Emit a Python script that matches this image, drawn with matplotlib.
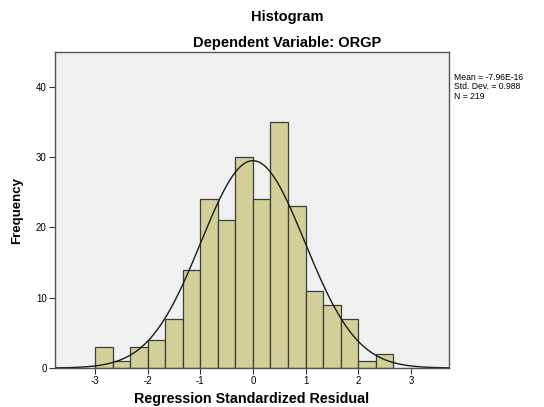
import numpy as np
import matplotlib
matplotlib.use("Agg")
from matplotlib import pyplot as plt

plt.rcParams['font.family'] = ['Liberation Sans', 'DejaVu Sans']
plt.rcParams['axes.unicode_minus'] = False

# histogram bins (width 1/3) and counts
bin_left = -3.0
bin_width = 1.0 / 3.0
counts = [3, 1, 3, 4, 7, 14, 24, 21, 30, 24, 35, 23, 11, 9, 7, 1, 2]
x_ticks = [-3, -2, -1, 0, 1, 2, 3]
y_ticks = [0, 10, 20, 30, 40]

mean = -7.96e-16
sd = 0.988
n = 219

edges = bin_left + bin_width * np.arange(len(counts))

fig = plt.figure(figsize=(5.44, 4.07), dpi=100)
ax = fig.add_axes([0.101, 0.0958, 0.724, 0.776])
ax.set_facecolor('#f0f0f0')

ax.bar(edges, counts, width=bin_width, align='edge',
       color='#d3cf98', edgecolor='#3c3c3c', linewidth=0.9)

# fitted normal curve
xs = np.linspace(-3.76, 3.72, 400)
ys = n * bin_width / (sd * np.sqrt(2 * np.pi)) * np.exp(-0.5 * ((xs - mean) / sd) ** 2)
ax.plot(xs, ys, color='#1a1a1a', linewidth=1.0)

ax.set_xlim(-3.76, 3.72)
ax.set_ylim(0, 44.9)
ax.set_xticks(x_ticks)
ax.set_yticks(y_ticks)
ax.tick_params(labelsize=7, length=4, width=0.8, color='#333333', pad=2)
for s in ax.spines.values():
    s.set_color('#555555')
    s.set_linewidth(1.0)

ax.set_ylabel('Frequency', fontsize=9.5, fontweight='bold', labelpad=9)
ax.set_xlabel('Regression Standardized Residual', fontsize=10.3, fontweight='bold', labelpad=4)

fig.text(287 / 544, 1 - 17 / 407, 'Histogram', ha='center', va='center',
         fontsize=10.5, fontweight='bold')
fig.text(287 / 544, 1 - 43 / 407, 'Dependent Variable: ORGP', ha='center', va='center',
         fontsize=10.5, fontweight='bold')

fig.text(454 / 544, 1 - 73 / 407,
         'Mean = -7.96E-16\nStd. Dev. = 0.988\nN = 219',
         ha='left', va='top', fontsize=6.2, linespacing=1.05)

fig.savefig('out.png', dpi=100)
